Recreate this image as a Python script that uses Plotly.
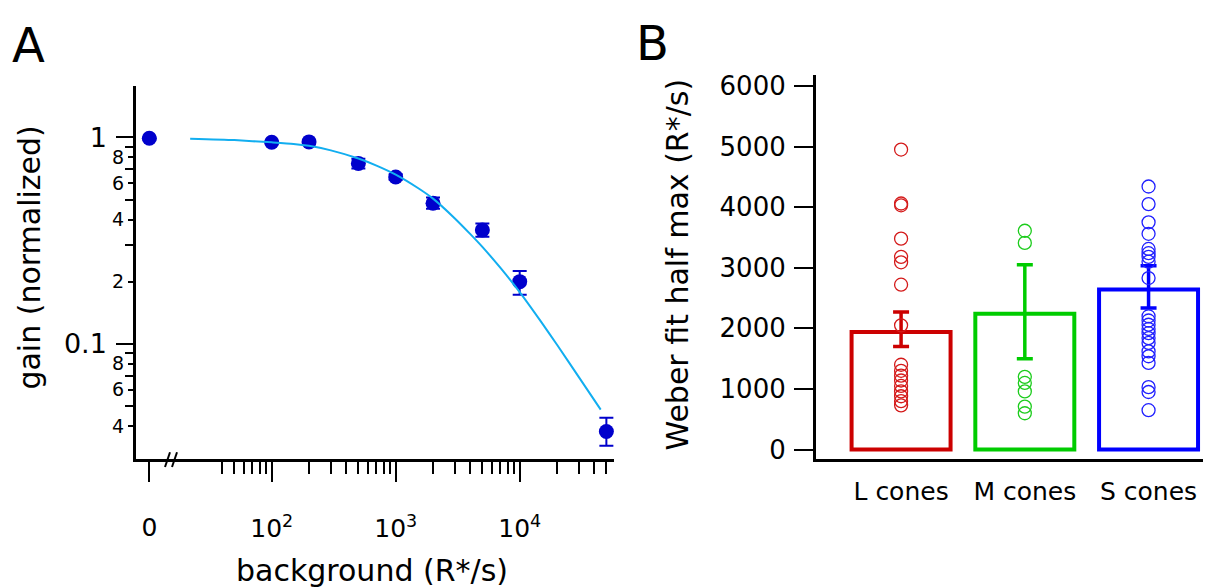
import plotly.graph_objects as go

W, H = 1207, 588
FONT = "DejaVu Sans"

# ---------------- Panel A data ----------------
bg_zero = [0]
gain_zero = [0.99]
gain_zero_err = [0.012]

bg = [100, 200, 500, 1000, 2000, 5000, 10000, 50000]
gain = [0.947, 0.951, 0.748, 0.643, 0.480, 0.356, 0.200, 0.0376]
gain_err_plus = [0.010, 0.012, 0.041, 0.020, 0.032, 0.027, 0.025, 0.0062]
gain_err_minus = [0.010, 0.012, 0.041, 0.020, 0.029, 0.026, 0.027, 0.0055]

fit_bg = [22, 50, 100, 150, 200, 300, 500, 700, 1000, 1500, 2000, 3000, 4000,
          5000, 7000, 10000, 15000, 20000, 30000, 45000]
fit_gain = [0.985, 0.97, 0.946, 0.93, 0.91, 0.865, 0.79, 0.73, 0.66, 0.57,
            0.505, 0.405, 0.34, 0.295, 0.233, 0.178, 0.127, 0.099, 0.069, 0.048]

x_major_vals = [100, 1000, 10000]
x_major_text = ["10<sup>2</sup>", "10<sup>3</sup>", "10<sup>4</sup>"]
x_minor_vals = [40, 50, 60, 70, 80, 90, 200, 300, 400, 500, 600, 700, 800, 900,
                2000, 3000, 4000, 5000, 6000, 7000, 8000, 9000,
                20000, 30000, 40000, 50000]
y_major_vals = [0.1, 1]
y_major_text = ["0.1", "1"]
y_label_vals = [0.04, 0.06, 0.08, 0.2, 0.4, 0.6, 0.8]
y_label_text = ["4", "6", "8", "2", "4", "6", "8"]
y_minor_vals = [0.05, 0.07, 0.09, 0.3, 0.5, 0.7, 0.9]

# ---------------- Panel B data ----------------
cones = ["L cones", "M cones", "S cones"]
half_max_mean = [1940, 2240, 2640]
half_max_err_plus = [330, 810, 395]
half_max_err_minus = [240, 740, 305]
L_vals = [4950, 4060, 4030, 3480, 3180, 3090, 2720, 2050, 1400, 1300, 1220,
          1140, 1050, 960, 880, 800, 730]
M_vals = [3610, 3410, 1200, 1100, 960, 710, 600]
S_vals = [4340, 4050, 3750, 3560, 3310, 3240, 3180, 3100, 2830, 2200, 2130,
          2060, 1990, 1920, 1840, 1760, 1620, 1540, 1430, 1030, 950, 650]
b_ticks = [0, 1000, 2000, 3000, 4000, 5000, 6000]

bar_colors = ["#cc0000", "#00cc00", "#0000ff"]
pt_colors = ["#d41a1a", "#1ccc1c", "#2020ff"]

PT = "#0000cc"
FIT = "#12aef0"


def px(x):
    return x / W


def py(y):
    return 1 - y / H


fig = go.Figure()

# Panel A
fig.add_trace(go.Scatter(
    x=fit_bg, y=fit_gain, xaxis="x2", yaxis="y3", mode="lines",
    line=dict(color=FIT, width=2, shape="spline", smoothing=0.6),
    showlegend=False, hoverinfo="skip"))
fig.add_trace(go.Scatter(
    x=bg_zero, y=gain_zero, xaxis="x", yaxis="y", mode="markers",
    marker=dict(color=PT, size=15),
    error_y=dict(type="data", array=gain_zero_err, color=PT, thickness=2, width=7),
    showlegend=False))
fig.add_trace(go.Scatter(
    x=bg, y=gain, xaxis="x2", yaxis="y", mode="markers",
    marker=dict(color=PT, size=15),
    error_y=dict(type="data", array=gain_err_plus, arrayminus=gain_err_minus,
                 color=PT, thickness=2, width=7),
    showlegend=False))

# Panel B
groups = [L_vals, M_vals, S_vals]
for i, c in enumerate(cones):
    fig.add_trace(go.Bar(
        x=[c], y=[half_max_mean[i]], xaxis="x3", yaxis="y2", width=0.8,
        marker=dict(color="rgba(0,0,0,0)", line=dict(color=bar_colors[i], width=4)),
        error_y=dict(type="data", array=[half_max_err_plus[i]],
                     arrayminus=[half_max_err_minus[i]], color=bar_colors[i],
                     thickness=3.5, width=8),
        showlegend=False))
for i, c in enumerate(cones):
    fig.add_trace(go.Scatter(
        x=[c] * len(groups[i]), y=groups[i], xaxis="x3", yaxis="y2",
        mode="markers",
        marker=dict(symbol="circle-open", size=13, color=pt_colors[i],
                    line=dict(width=1.3, color=pt_colors[i])),
        showlegend=False))

axis_common = dict(showgrid=False, zeroline=False, showline=True,
                   linecolor="black", linewidth=2.5, tickcolor="black",
                   tickwidth=2, ticks="outside")

yA_bottom, yA_top = 463.3, 83.3
yA_range = [-1.56, 0.2495]

fig.update_layout(
    width=W, height=H, autosize=False,
    margin=dict(l=0, r=0, t=0, b=0),
    paper_bgcolor="white", plot_bgcolor="white",
    font=dict(family=FONT, color="black", size=22),
    barmode="overlay",
    xaxis=dict(axis_common, domain=[px(136), px(168)], range=[-1, 1.4],
               anchor="y", tickvals=[0], ticktext=["0"], ticklen=20,
               tickfont=dict(size=25), ticklabelstandoff=24),
    xaxis2=dict(axis_common, type="log", domain=[px(168), px(614)],
                range=[1.1637, 4.7605], anchor="y",
                tickvals=x_major_vals, ticktext=x_major_text, ticklen=20,
                tickfont=dict(size=25), ticklabelstandoff=25,
                minor=dict(tickvals=x_minor_vals, ticklen=12, tickwidth=2,
                           tickcolor="black", ticks="outside", showgrid=False)),
    yaxis=dict(axis_common, type="log", domain=[py(yA_bottom), py(yA_top)],
               range=yA_range, anchor="x", tickvals=y_major_vals,
               ticktext=y_major_text, ticklen=17, tickfont=dict(size=27),
               ticklabelstandoff=4,
               minor=dict(tickvals=y_minor_vals, ticklen=8, tickwidth=2,
                          tickcolor="black", ticks="outside", showgrid=False)),
    yaxis3=dict(showgrid=False, zeroline=False, showline=False, type="log",
                overlaying="y", anchor="free", position=px(136), side="left",
                range=yA_range, tickvals=y_label_vals, ticktext=y_label_text,
                ticks="outside", ticklen=8, tickwidth=2, tickcolor="black",
                tickfont=dict(size=19)),
    xaxis3=dict(showgrid=False, zeroline=False, showline=True, linecolor="black",
                linewidth=2.5, ticks="", type="category",
                categoryorder="array", categoryarray=cones,
                domain=[px(815.7), px(1203)], range=[-0.69, 2.44], anchor="y2",
                tickfont=dict(size=25), ticklabelstandoff=8),
    yaxis2=dict(axis_common, domain=[py(462.7), py(72.7)], range=[-152, 6172],
                anchor="x3", tickvals=b_ticks, ticklen=19,
                tickfont=dict(size=26), ticklabelstandoff=3),
)

annotations = [
    dict(text="A", x=px(28), y=py(42), font=dict(size=48)),
    dict(text="B", x=px(652), y=py(40), font=dict(size=48)),
    dict(text="gain (normalized)", x=px(30), y=py(258), textangle=-90,
         font=dict(size=30)),
    dict(text="background (R*/s)", x=px(372), y=py(576), font=dict(size=30)),
    dict(text="Weber fit half max (R*/s)", x=px(677), y=py(265), textangle=-90,
         font=dict(size=30)),
]
for a in annotations:
    a.update(xref="paper", yref="paper", showarrow=False,
             xanchor="center", yanchor="middle")
fig.update_layout(annotations=annotations)

# axis break mark
for x0 in (165, 172):
    fig.add_shape(type="line", xref="paper", yref="paper",
                  x0=px(x0), y0=py(471), x1=px(x0 + 5), y1=py(456),
                  line=dict(color="black", width=2))

fig.write_html("out.html", config={"displayModeBar": False},
               post_script="document.body.style.margin='0';document.body.style.overflow='hidden';")
